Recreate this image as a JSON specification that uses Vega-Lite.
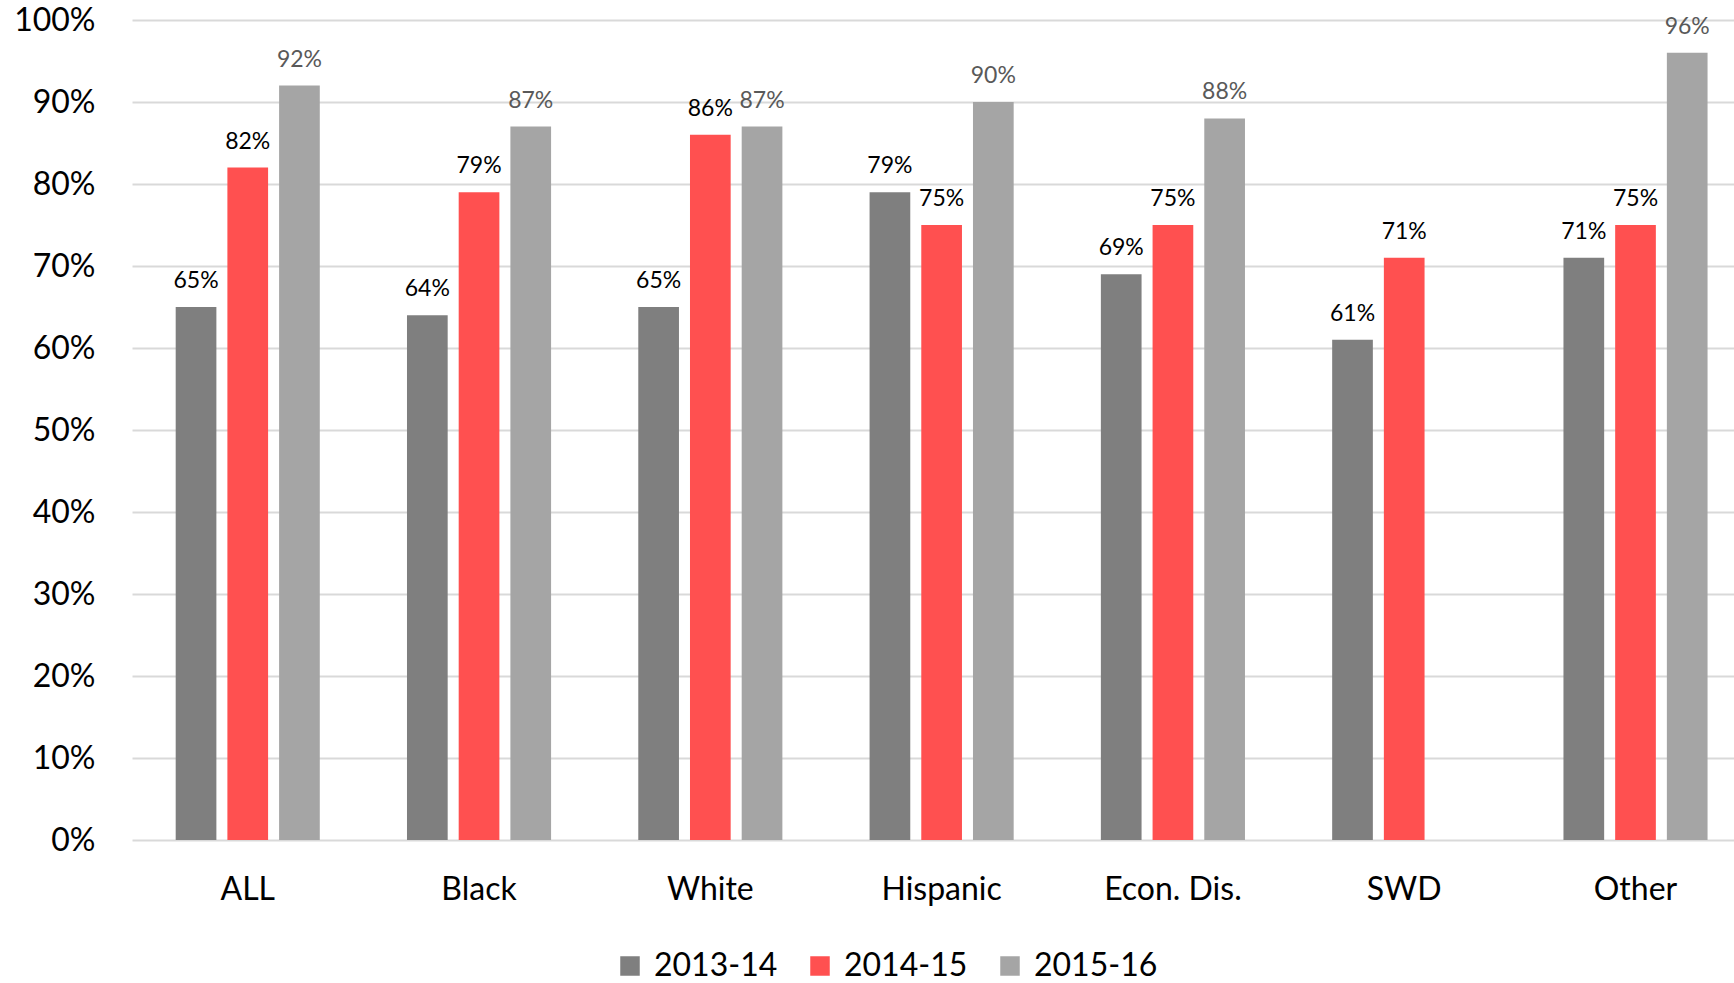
{
  "$schema": "https://vega.github.io/schema/vega-lite/v6.json",
  "autosize": {"type": "none"},
  "padding": {"left": 132, "top": 20, "right": 0, "bottom": 143},
  "width": 1602,
  "height": 820,
  "background": "#ffffff",
  "config": {
    "font": "Lato",
    "view": {"stroke": null}
  },
  "data": {
    "values": [
      {"group": "ALL", "year": "2013-14", "value": 0.65},
      {"group": "ALL", "year": "2014-15", "value": 0.82},
      {"group": "ALL", "year": "2015-16", "value": 0.92},
      {"group": "Black", "year": "2013-14", "value": 0.64},
      {"group": "Black", "year": "2014-15", "value": 0.79},
      {"group": "Black", "year": "2015-16", "value": 0.87},
      {"group": "White", "year": "2013-14", "value": 0.65},
      {"group": "White", "year": "2014-15", "value": 0.86},
      {"group": "White", "year": "2015-16", "value": 0.87},
      {"group": "Hispanic", "year": "2013-14", "value": 0.79},
      {"group": "Hispanic", "year": "2014-15", "value": 0.75},
      {"group": "Hispanic", "year": "2015-16", "value": 0.90},
      {"group": "Econ. Dis.", "year": "2013-14", "value": 0.69},
      {"group": "Econ. Dis.", "year": "2014-15", "value": 0.75},
      {"group": "Econ. Dis.", "year": "2015-16", "value": 0.88},
      {"group": "SWD", "year": "2013-14", "value": 0.61},
      {"group": "SWD", "year": "2014-15", "value": 0.71},
      {"group": "Other", "year": "2013-14", "value": 0.71},
      {"group": "Other", "year": "2014-15", "value": 0.75},
      {"group": "Other", "year": "2015-16", "value": 0.96}
    ]
  },
  "encoding": {
    "x": {
      "field": "group",
      "type": "nominal",
      "sort": null,
      "scale": {"paddingInner": 0.377, "paddingOuter": 0.1516, "align": 0.623},
      "axis": {
        "title": null,
        "labelAngle": 0,
        "labelFontSize": 32,
        "labelColor": "#000000",
        "labelPadding": 34,
        "ticks": false,
        "domain": false
      }
    },
    "xOffset": {
      "field": "year",
      "type": "nominal",
      "sort": ["2013-14", "2014-15", "2015-16"],
      "scale": {"domain": ["2013-14", "2014-15", "2015-16"], "paddingInner": 0.213, "paddingOuter": 0}
    },
    "y": {
      "field": "value",
      "type": "quantitative",
      "scale": {"domain": [0, 1], "nice": false},
      "axis": {
        "title": null,
        "format": ".0%",
        "values": [0, 0.1, 0.2, 0.3, 0.4, 0.5, 0.6, 0.7, 0.8, 0.9, 1],
        "labelFontSize": 32,
        "labelColor": "#000000",
        "labelPadding": 37,
        "ticks": false,
        "domain": false,
        "gridColor": "#d9d9d9",
        "gridWidth": 2
      }
    }
  },
  "layer": [
    {
      "mark": {"type": "bar"},
      "encoding": {
        "color": {
          "field": "year",
          "type": "nominal",
          "scale": {"domain": ["2013-14", "2014-15", "2015-16"], "range": ["#7f7f7f", "#ff5050", "#a5a5a5"]},
          "legend": {
            "title": null,
            "orient": "none",
            "direction": "horizontal",
            "legendX": 482,
            "legendY": 930,
            "symbolType": "square",
            "symbolSize": 380,
            "symbolStrokeWidth": 0,
            "labelFontSize": 32,
            "labelColor": "#000000",
            "labelOffset": 8,
            "columnPadding": 26
          }
        }
      }
    },
    {
      "mark": {"type": "text", "baseline": "alphabetic", "dy": -19, "fontSize": 23},
      "encoding": {
        "text": {"field": "value", "type": "quantitative", "format": ".0%"},
        "color": {
          "condition": {"test": "datum.year === '2015-16'", "value": "#595959"},
          "value": "#000000"
        }
      }
    }
  ]
}
